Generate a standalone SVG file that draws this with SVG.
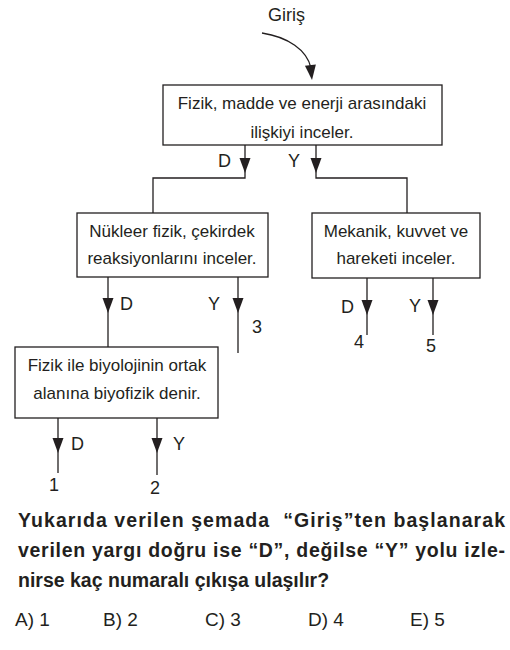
<svg xmlns="http://www.w3.org/2000/svg" xmlns:xlink="http://www.w3.org/1999/xlink" width="510" height="650" viewBox="0 0 510 650">
<style>
text{font-family:"Liberation Sans",Arial,sans-serif;fill:#231f20}
.t{font-size:17px;text-anchor:middle}
.l{font-size:18px}
.q{font-size:19.5px;font-weight:bold}
.o{font-size:19px}
.box{fill:#fff;stroke:#231f20;stroke-width:1.3}
.ln{fill:none;stroke:#231f20;stroke-width:1.3}
</style>
<defs>
<path id="ah" d="M-5.5,-15 L5.5,-15 L0,0 Z" fill="#231f20"/>
</defs>
<g id="connectors">
<path class="ln" d="M262,33 C288,37 307,50 311,68"/>
<use xlink:href="#ah" transform="translate(312,80) rotate(-6)"/>
<path class="ln" d="M245,145 V178 H153 V213"/>
<use xlink:href="#ah" x="245" y="173"/>
<path class="ln" d="M316,145 V178 H407 V213"/>
<use xlink:href="#ah" x="316" y="173"/>
<path class="ln" d="M108,277 V347"/>
<use xlink:href="#ah" x="108" y="313"/>
<path class="ln" d="M238,277 V353"/>
<use xlink:href="#ah" x="238" y="313"/>
<path class="ln" d="M367,278 V335"/>
<use xlink:href="#ah" x="367" y="315"/>
<path class="ln" d="M433,278 V335"/>
<use xlink:href="#ah" x="433" y="315"/>
<path class="ln" d="M58,418 V473"/>
<use xlink:href="#ah" x="58" y="453"/>
<path class="ln" d="M157,418 V475"/>
<use xlink:href="#ah" x="157" y="453"/>
</g>
<g id="labels">
<text class="l" x="268" y="21">Giriş</text>
<text class="l" x="218" y="167">D</text>
<text class="l" x="288" y="167">Y</text>
<text class="l" x="120" y="310">D</text>
<text class="l" x="208" y="310">Y</text>
<text class="l" x="252" y="333">3</text>
<text class="l" x="341" y="313">D</text>
<text class="l" x="409" y="312">Y</text>
<text class="l" x="354" y="348">4</text>
<text class="l" x="426" y="352">5</text>
<text class="l" x="71" y="450">D</text>
<text class="l" x="173" y="450">Y</text>
<text class="l" x="49" y="491">1</text>
<text class="l" x="150" y="494">2</text>
</g>
<g id="n1">
<rect class="box" x="163" y="85" width="279" height="60"/>
<text class="t" x="302" y="109">Fizik, madde ve enerji arasındaki</text>
<text class="t" x="302" y="138">ilişkiyi inceler.</text>
</g>
<g id="n2">
<rect class="box" x="77" y="213" width="191" height="64"/>
<text class="t" x="172" y="237">Nükleer fizik, çekirdek</text>
<text class="t" x="172" y="264">reaksiyonlarını inceler.</text>
</g>
<g id="n3">
<rect class="box" x="312" y="213" width="168" height="65"/>
<text class="t" x="396" y="237">Mekanik, kuvvet ve</text>
<text class="t" x="396" y="264">hareketi inceler.</text>
</g>
<g id="n4">
<rect class="box" x="15" y="347" width="203" height="71"/>
<text class="t" x="117" y="371">Fizik ile biyolojinin ortak</text>
<text class="t" x="117" y="399">alanına biyofizik denir.</text>
</g>
<g id="question">
<text class="q" x="18" y="527" textLength="487" lengthAdjust="spacing" xml:space="preserve">Yukarıda verilen şemada  “Giriş”ten başlanarak</text>
<text class="q" x="18" y="557" textLength="487" lengthAdjust="spacing">verilen yargı doğru ise “D”, değilse “Y” yolu izle-</text>
<text class="q" x="18" y="587">nirse kaç numaralı çıkışa ulaşılır?</text>
<text class="o" x="15" y="626">A) 1</text>
<text class="o" x="103" y="626">B) 2</text>
<text class="o" x="205" y="626">C) 3</text>
<text class="o" x="308" y="626">D) 4</text>
<text class="o" x="410" y="626">E) 5</text>
</g>
</svg>
